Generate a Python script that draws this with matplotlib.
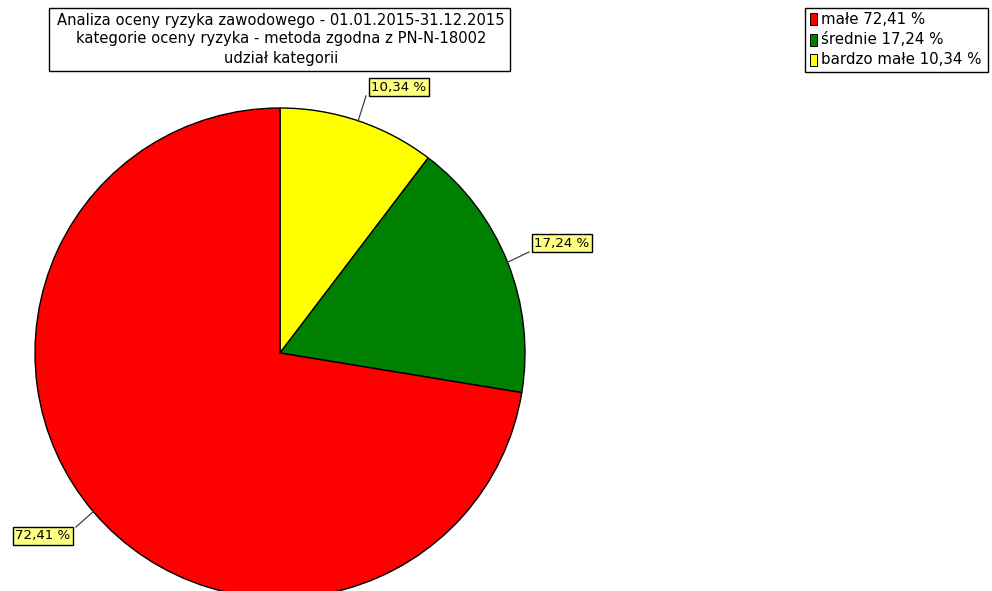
import numpy as np
import matplotlib.pyplot as plt
from matplotlib.patches import Rectangle

categories = ["bardzo małe", "średnie", "małe"]
shares = [10.34, 17.24, 72.41]
colors = ["#ffff00", "#008000", "#ff0000"]
legend_order = [2, 1, 0]

title_lines = [
    "Analiza oceny ryzyka zawodowego - 01.01.2015-31.12.2015",
    "kategorie oceny ryzyka - metoda zgodna z PN-N-18002",
    "udział kategorii",
]

W, H = 992, 591


def fmt(v):
    return f"{v:.2f}".replace(".", ",") + " %"


fig = plt.figure(figsize=(W / 100, H / 100), dpi=100)
ax = fig.add_axes([0, 0, 1, 1])

cx, cy, r = 280, H - 353, 245
wedges, _ = ax.pie(shares, colors=colors, startangle=90, counterclock=False,
                   center=(cx, cy), radius=r, frame=True,
                   wedgeprops=dict(edgecolor="black", linewidth=1.0))
ax.set_xlim(0, W)
ax.set_ylim(0, H)
ax.set_aspect("equal")
ax.axis("off")

# label boxes with leader lines (box centers in pixel coords)
label_pos = [(399, H - 87), (562, H - 243), (43, H - 536)]
total = sum(shares)
start = 0.0
for v, (lx, ly) in zip(shares, label_pos):
    mid = (start + v / 2) / total * 2 * np.pi
    start += v
    ex, ey = cx + r * np.sin(mid), cy + r * np.cos(mid)
    # line meets the box at its nearest corner
    bx = lx - 33 if ex < lx else lx + 33
    by = ly - 9 if ey < ly else ly + 9
    if abs(ex - lx) < 40:
        bx = lx - 33
    ax.plot([ex, bx], [ey, by], color="#404040", lw=0.9, zorder=3)
    ax.text(lx, ly, fmt(v), ha="center", va="center", fontsize=9.6, zorder=4,
            bbox=dict(boxstyle="square,pad=0.2", fc="#ffff80", ec="black", lw=1.0))

# title box
ax.add_patch(Rectangle((49, H - 71), 461, 63, fc="white", ec="black", lw=1.0, zorder=5))
for i, line in enumerate(title_lines):
    ax.text(281, H - 20 - i * 19, line, ha="center", va="center",
            fontsize=10.6, zorder=6)

# legend box
ax.add_patch(Rectangle((805, H - 72), 183, 64, fc="white", ec="black", lw=1.0, zorder=5))
for i, k in enumerate(legend_order):
    y = H - 19 - i * 20.5
    ax.add_patch(Rectangle((810, y - 6), 7, 12, fc=colors[k], ec="black", lw=0.7, zorder=6))
    ax.text(821, y, f"{categories[k]} {fmt(shares[k])}", ha="left", va="center",
            fontsize=10.8, zorder=6)

fig.savefig("out.png", dpi=100)
